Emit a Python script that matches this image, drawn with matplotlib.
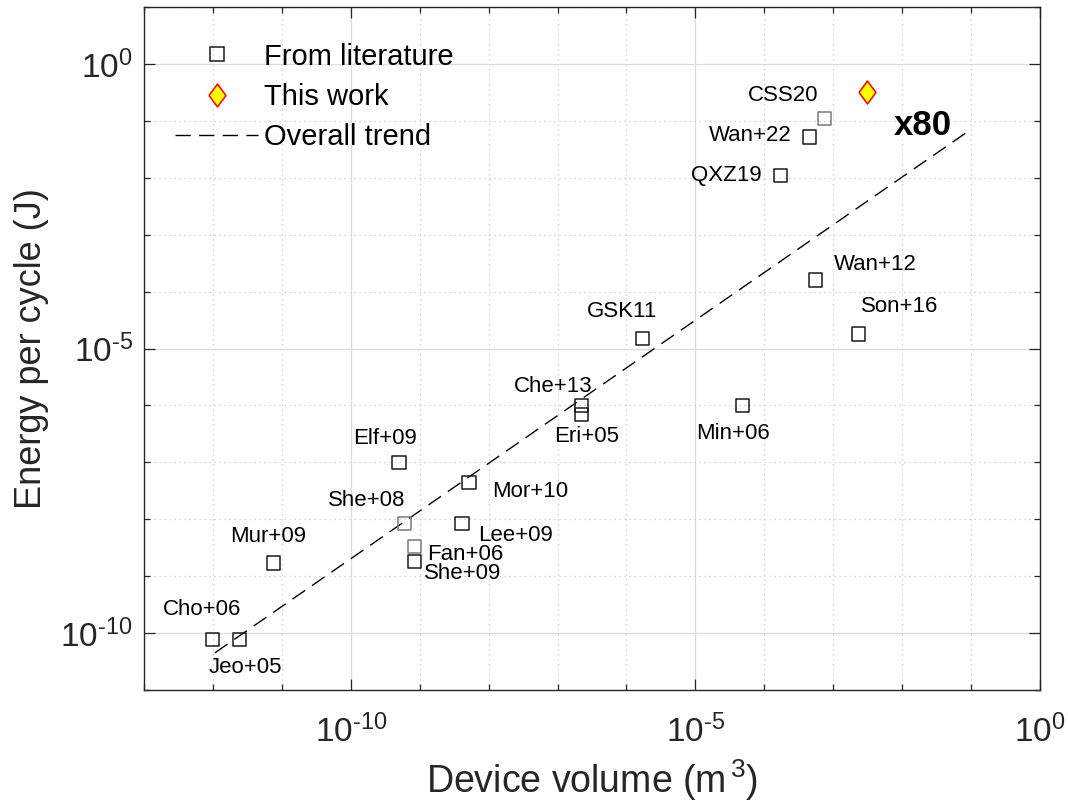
"""
Energy per cycle vs device volume, log-log scatter with trend line.
Output: out.png
"""
import matplotlib
matplotlib.use("Agg")
import matplotlib.pyplot as plt
import numpy as np
from matplotlib.ticker import FuncFormatter, NullFormatter

# literature points (device volume m^3, energy per cycle J)
LIT_NAMES = ["Cho+06", "Jeo+05", "Mur+09", "Elf+09", "She+08", "Fan+06",
             "She+09", "Lee+09", "Mor+10", "Che+13", "Eri+05", "GSK11",
             "Min+06", "Wan+12", "Son+16", "QXZ19", "Wan+22", "CSS20"]
LIT_VOL = [9.8e-13, 2.4e-12, 7.6e-12, 5.0e-10, 6.0e-10, 8.5e-10,
           8.5e-10, 4.1e-9, 5.2e-9, 2.2e-7, 2.2e-7, 1.7e-6,
           4.8e-5, 5.5e-4, 2.3e-3, 1.7e-4, 4.5e-4, 7.4e-4]
LIT_ENERGY = [7.6e-11, 7.6e-11, 1.7e-9, 1.0e-7, 8.3e-9, 3.3e-9,
              1.8e-9, 8.3e-9, 4.4e-8, 1.0e-6, 6.9e-7, 1.5e-5,
              1.0e-6, 1.6e-4, 1.8e-5, 1.1e-2, 5.2e-2, 0.11]

# this work
WORK_VOL = [3.1e-3]
WORK_ENERGY = [0.32]

# overall trend end points
TREND_VOL = [1.07e-12, 8.5e-2]
TREND_ENERGY = [4.5e-11, 6.2e-2]

# label offsets from marker, in pixels (dx, dy)
LABEL_OFFSETS = {
    "Cho+06": (-10, 30), "Jeo+05": (6, -28), "Mur+09": (-5, 27),
    "Elf+09": (-14, 24), "She+08": (-38, 23), "Fan+06": (50, -8),
    "She+09": (48, -12), "Lee+09": (54, -12), "Mor+10": (61, -9),
    "Che+13": (-28, 19), "Eri+05": (5, -22), "GSK11": (-20, 27),
    "Min+06": (-9, -28), "Wan+12": (60, 15), "Son+16": (41, 27),
    "QXZ19": (-54, 0), "Wan+22": (-59, 2), "CSS20": (-41, 23),
}
GREY_EDGE = {"She+08", "Fan+06", "CSS20"}

plt.rcParams.update({
    "font.family": "Liberation Sans",
    "mathtext.fontset": "custom",
    "mathtext.rm": "Liberation Sans",
    "mathtext.it": "Liberation Sans:italic",
    "mathtext.bf": "Liberation Sans:bold",
    "axes.unicode_minus": False,
})


def pow10(v, pos):
    e = int(round(np.log10(v)))
    exp = str(e).replace("-", r"\text{-}")
    return r"$\mathdefault{10^{%s}}$" % exp


fig = plt.figure(figsize=(10.68, 8.09), dpi=100)
ax = fig.add_axes([0.1348, 0.1471, 0.839, 0.8442])
ax.set_xscale("log")
ax.set_yscale("log")

# grid
ax.set_xticks([1e-10, 1e-5, 1e0])
ax.set_yticks([1e-10, 1e-5, 1e0])
ax.set_xticks(10.0 ** np.arange(-13, 1), minor=True)
ax.set_yticks(10.0 ** np.arange(-11, 2), minor=True)
ax.xaxis.set_major_formatter(FuncFormatter(pow10))
ax.yaxis.set_major_formatter(FuncFormatter(pow10))
ax.xaxis.set_minor_formatter(NullFormatter())
ax.yaxis.set_minor_formatter(NullFormatter())
ax.grid(True, which="major", color="#dcdcdc", lw=0.9, ls="-")
ax.grid(True, which="minor", color="#c8c8c8", lw=0.9, ls=(0, (1, 3)))
ax.set_axisbelow(True)

ax.set_xlim(1e-13, 1e0)
ax.set_ylim(1e-11, 1e1)

ax.plot(TREND_VOL, TREND_ENERGY, color="black", lw=1.0, ls=(0, (11, 6)),
        label="Overall trend", zorder=2)

edge = ["#7a7a7a" if n in GREY_EDGE else "#1a1a1a" for n in LIT_NAMES]
ax.scatter(LIT_VOL, LIT_ENERGY, marker="s", s=9.5 ** 2, facecolors="none",
           edgecolors=edge, linewidths=1.1, zorder=3)

diamond = [(-0.37, 0), (0, 0.5), (0.37, 0), (0, -0.5), (-0.37, 0)]
ax.plot(WORK_VOL, WORK_ENERGY, ls="none", marker=diamond, ms=16.5,
        mfc="#ffff00", mec="#ff0000", mew=1.1, zorder=4)

for name, xv, yv in zip(LIT_NAMES, LIT_VOL, LIT_ENERGY):
    dx, dy = LABEL_OFFSETS[name]
    ax.annotate(name, (xv, yv), xytext=(dx, dy), textcoords="offset pixels",
                ha="center", va="center", fontsize=16, color="black")

ax.text(0.869, 0.826, "x80", transform=ax.transAxes, fontsize=25,
        fontweight="bold", ha="center", va="center")

# legend
handles = [
    plt.Line2D([0], [0], ls="none", marker="s", ms=9.5, mfc="none",
               mec="#1a1a1a", mew=1.1, label="From literature"),
    plt.Line2D([0], [0], ls="none", marker=diamond, ms=16.5, mfc="#ffff00",
               mec="#ff0000", mew=1.1, label="This work"),
    plt.Line2D([0], [0], color="black", lw=1.0, ls=(0, (11, 6)),
               label="Overall trend"),
]
ax.legend(handles=handles, loc="upper left", bbox_to_anchor=(0.022, 0.965),
          frameon=False, fontsize=21, handlelength=2.85, handletextpad=0.2,
          labelspacing=0.42, borderaxespad=0.0)

ax.tick_params(which="both", direction="in", top=True, right=True,
               colors="#262626")
ax.tick_params(which="major", length=8, width=0.9)
ax.tick_params(which="minor", length=4, width=0.9)
ax.tick_params(axis="x", labelsize=24, pad=18, labelcolor="#262626")
ax.tick_params(axis="y", labelsize=24, pad=8, labelcolor="#262626")
for sp in ax.spines.values():
    sp.set_color("#262626")
    sp.set_linewidth(1.0)

ax.set_xlabel(r"Device volume (m$^{\,3}$)", fontsize=27, color="#262626",
              labelpad=6)
ax.set_ylabel("Energy per cycle (J)", fontsize=26, color="#262626",
              labelpad=8)

fig.savefig("out.png", dpi=100)
